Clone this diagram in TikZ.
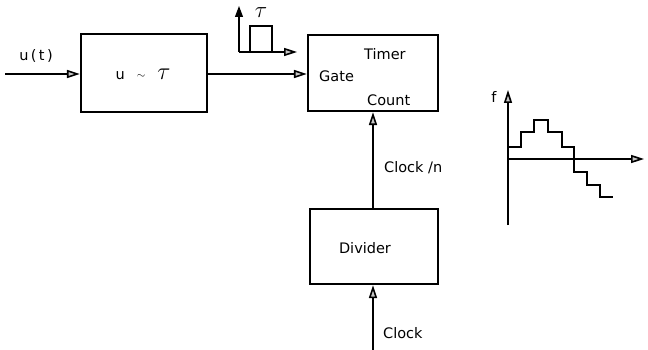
\documentclass[tikz,border=0pt]{standalone}
\usepackage{fontspec}
\setmainfont{DejaVu Sans}
\usetikzlibrary{arrows.meta}
\begin{document}
\begin{tikzpicture}[x=1pt,y=-1pt,
  blk/.style={draw,line width=2.2pt,minimum width=#1,inner sep=0pt},
  lbl/.style={font=\fontsize{14.5}{16}\selectfont,inner sep=0pt},
  tip/.style={-{Triangle[length=13pt,width=8pt,line width=1.6pt,fill=gray!45]}},
  sig/.style={line width=1.2pt,tip},
  ax/.style={line width=1.1pt},
  stairs/.style={line width=2.6pt,line join=miter}]
\useasboundingbox (0,0) rectangle (648,350);
% blocks
\node[blk=126pt,minimum height=78pt] (conv) at (144,73) {};
\node[lbl] (convtxt) at (143,74) {u\hspace{12pt}\raisebox{1pt}{\fontsize{11}{11}\selectfont$\sim$}\hspace{12pt}\scalebox{1.7}{$\tau$}};
\node[blk=130pt,minimum height=76pt] (timer) at (373,73) {};
\node[lbl,anchor=west] (timertxt) at (364,54) {Timer};
\node[lbl,anchor=west] (gatetxt) at (319,76) {Gate};
\node[lbl,anchor=west] (counttxt) at (367,100) {Count};
\node[blk=128pt,minimum height=75pt] (div) at (374,246.5) {};
\node[lbl] (divtxt) at (365,248) {Divider};
% connectors
\coordinate (in) at (5,74);
\coordinate (clk) at (373,350);
\draw[sig] (in) -- (conv.west |- in);
\node[lbl] (ut) at (36,56) {u\,(\,t\,)};
\draw[sig] (conv.east |- in) -- (timer.west |- in);
\draw[sig] (div.north -| clk) -- (timer.south -| clk);
\node[lbl,anchor=west] (clkn) at (384,168) {Clock /n};
\draw[sig] (clk) -- (div.south -| clk);
\node[lbl,anchor=west] (clktxt) at (383,333) {Clock};
% pulse inset
\coordinate (po) at (239,52);
\coordinate (py) at (239,6);
\coordinate (px) at (297,52);
\draw[ax,-{Triangle[length=11pt,width=8pt]}] (po) -- (py);
\draw[ax,tip] (po) -- (px);
\draw[line width=2pt] (250,52) -- (250,26) -- (272,26) -- (272,52);
\node[lbl] (tau) at (261,13) {\scalebox{1.6}{$\tau$}};
% graph
\coordinate (go) at (508,159);
\coordinate (gy) at (508,90);
\coordinate (gb) at (508,225);
\coordinate (gx) at (644,159);
\draw[ax,tip] (gb) -- (gy);
\draw[ax,tip] (go) -- (gx);
\node[lbl] (f) at (494,97) {f};
\draw[stairs] (509,147) -- (521,147) -- (521,132) -- (534,132) -- (534,120) -- (548,120) -- (548,132) -- (562,132) -- (562,147) -- (574,147) -- (574,172) -- (587,172) -- (587,185) -- (600,185) -- (600,197) -- (613,197);
\end{tikzpicture}
\end{document}
